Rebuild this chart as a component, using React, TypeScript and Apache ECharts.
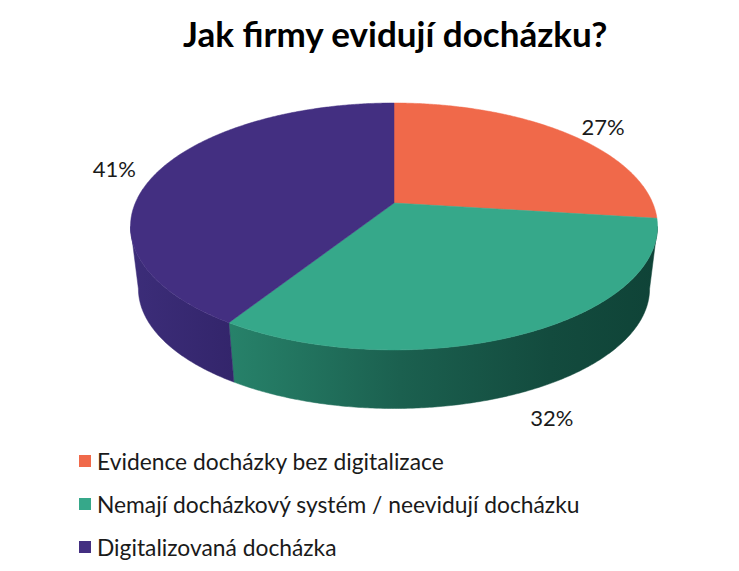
import React, { useEffect, useRef } from "react";
import * as echarts from "echarts";

const title = "Jak firmy evidují docházku?";
const categories = [
  "Evidence docházky bez digitalizace",
  "Nemají docházkový systém / neevidují docházku",
  "Digitalizovaná docházka",
];
const values = [27, 32, 41];
const labelTexts = ["27%", "32%", "41%"];
const topColors = ["#f0694a", "#36a88a", "#432f81"];
const sideStops = [
  [["#d95a3c", 0], ["#b84a30", 1]],
  [["#27826a", 0], ["#1b604f", 0.4], ["#134b3e", 0.75], ["#0f4337", 1]],
  [["#3c2d79", 0], ["#33256b", 1]],
];

const FONT = "Lato, 'Open Sans', sans-serif";

// projection geometry (pixels)
const CX = 394;
const CY = 203;
const A = 258.7;
const B = 119;
const P = 0.19;
const SX = 0.97;
const T = 63;
const RAD = Math.PI / 180;

function proj(phi: number, r = 1, level = 0): number[] {
  const s = Math.sin(phi * RAD) * r;
  const c = Math.cos(phi * RAD) * r;
  const w = 1 + P * c;
  let x = (A * s) / w;
  let y = (-B * c) / w;
  if (level) {
    x *= SX;
    y = y * SX + T;
  }
  return [CX + x, CY + y];
}

function arc(a: number, b: number, level: number): number[][] {
  const pts: number[][] = [];
  const n = Math.max(2, Math.ceil(Math.abs(b - a) / 0.5));
  for (let k = 0; k <= n; k++) pts.push(proj(a + ((b - a) * k) / n, 1, level));
  return pts;
}

const total = values.reduce((s, v) => s + v, 0);

export default function App() {
  const ref = useRef<HTMLDivElement>(null);
  useEffect(() => {
    if (!ref.current) return;
    const chart = echarts.init(ref.current, null, { renderer: "svg" });
    const phiR = Math.acos(-P) / RAD; // right silhouette (~101°)
    const phiL = 360 - phiR; // left silhouette (~259°)

    const renderItem = (params: any, api: any) => {
      const i = params.seriesIndex;
      const v = api.value(0);
      let start = 0;
      for (let k = 0; k < i; k++) start += values[k];
      const a0 = (start / total) * 360;
      const a1 = a0 + (v / total) * 360;
      const children: any[] = [];
      const top = [[CX, CY], ...arc(a0, a1, 0)];
      children.push({
        type: "polygon",
        z2: 10,
        shape: { points: top },
        style: { fill: topColors[i], stroke: topColors[i], lineWidth: 0.5 },
      });
      const s0 = Math.max(a0, phiR);
      const s1 = Math.min(a1, phiL);
      if (s1 > s0) {
        const upper = arc(s0, s1, 0);
        const lower = arc(s0, s1, 1).reverse();
        const pts = [...upper, ...lower];
        const xs = pts.map((p) => p[0]);
        const minX = Math.min(...xs);
        const maxX = Math.max(...xs);
        const grad = new echarts.graphic.LinearGradient(
          minX,
          0,
          maxX,
          0,
          sideStops[i].map((s: any) => ({ offset: s[1], color: s[0] })),
          true
        );
        children.push({
          type: "polygon",
          z2: 1,
          shape: { points: pts },
          style: { fill: grad, stroke: grad, lineWidth: 0.5 },
        });
      }
      const mid = (a0 + a1) / 2;
      const sn = Math.sin(mid * RAD);
      const front = Math.max(0, -Math.cos(mid * RAD));
      const align = sn > 0.5 ? "left" : sn < -0.5 ? "right" : "center";
      const lp = proj(mid, align === "center" ? 1.15 : 1.1, 0);
      children.push({
        type: "text",
        z2: 20,
        x: lp[0],
        y: lp[1] + front * (T + 4),
        style: {
          text: labelTexts[i],
          fontSize: 22,
          fontFamily: FONT,
          fill: "#1a1a1a",
          align,
          verticalAlign: "middle",
        },
      });
      return { type: "group", children };
    };

    chart.setOption({
      animation: false,
      backgroundColor: "#ffffff",
      title: {
        text: title,
        left: 178,
        top: 10,
        textStyle: {
          fontSize: 35,
          fontWeight: "bold",
          fontFamily: FONT,
          color: "#000000",
        },
      },
      legend: {
        orient: "vertical",
        left: 74,
        top: 443,
        icon: "rect",
        itemWidth: 12,
        itemHeight: 12,
        itemGap: 17,
        selectedMode: false,
        data: categories,
        textStyle: {
          fontSize: 22.8,
          lineHeight: 26,
          fontFamily: FONT,
          color: "#1a1a1a",
          padding: [0, 0, 0, 1],
        },
      },
      series: categories.map((name, i) => ({
        type: "custom",
        name,
        coordinateSystem: "none",
        silent: true,
        itemStyle: { color: topColors[i] },
        data: [[values[i]]],
        renderItem,
      })),
    });
    return () => chart.dispose();
  }, []);
  return (
    <div
      ref={ref}
      style={{ position: "fixed", left: 0, top: 0, width: 739, height: 571 }}
    />
  );
}
